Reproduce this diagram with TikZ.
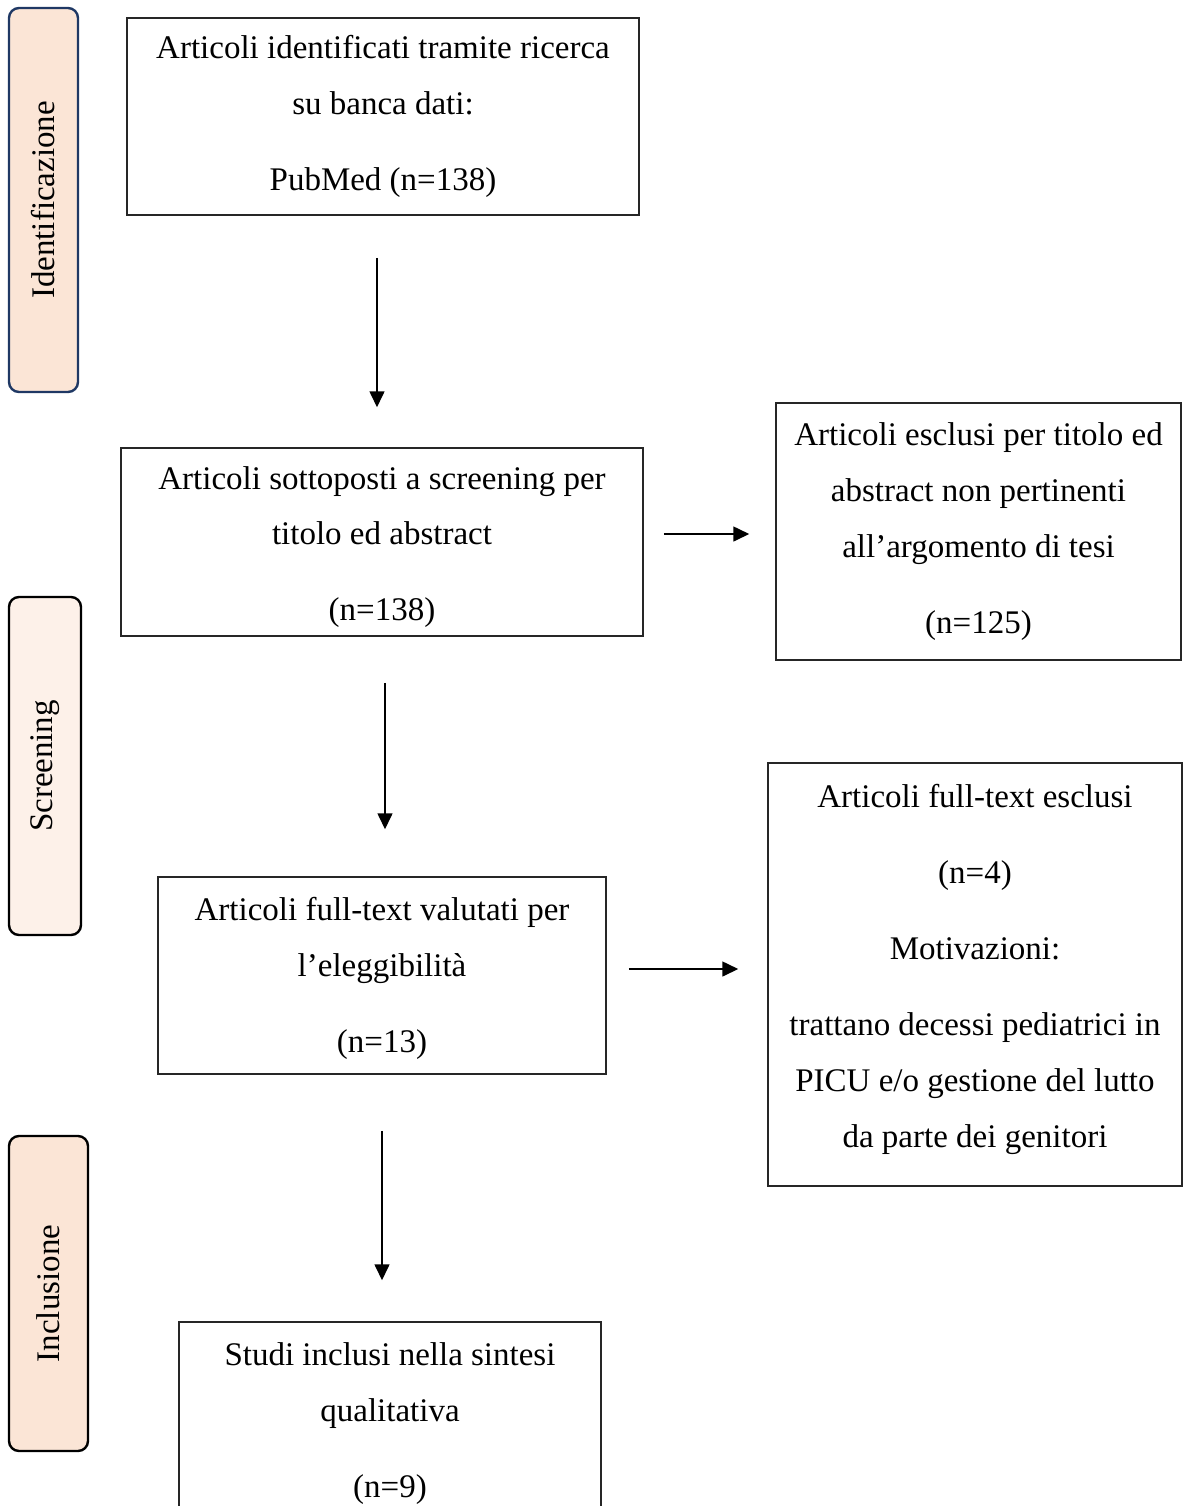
\documentclass[tikz,border=0pt]{standalone}
\usepackage{fontspec}
\setmainfont{Liberation Serif}
\usetikzlibrary{arrows.meta}

\definecolor{phasefill}{HTML}{FBE5D6}
\definecolor{phaselight}{HTML}{FDF1E9}
\definecolor{phaseblue}{HTML}{1F3864}

\begin{document}
\begin{tikzpicture}[x=0.5pt, y=-0.5pt,
    box/.style={draw=black!85, line width=0.75pt, align=center, inner sep=0pt,
        font=\fontsize{16.5}{28}\selectfont},
    phase/.style={draw=black, line width=1.2pt, rounded corners=5pt, rotate=90,
        inner sep=0pt, font=\fontsize{16.5}{20}\selectfont},
    arr/.style={-{Triangle[length=8pt,width=7.5pt]}, line width=0.8pt}]
    \useasboundingbox (0,0) rectangle (1188,1506);

    % Draw phase labels
    \node[phase, draw=phaseblue, fill=phasefill, minimum width=192pt, minimum height=34.5pt]
        (phid) at (43.5,200) {Identificazione};
    \node[phase, fill=phaselight, minimum width=169pt, minimum height=36pt]
        (phscr) at (45,766) {Screening};
    \node[phase, fill=phasefill, minimum width=157.5pt, minimum height=39.5pt]
        (phinc) at (48.5,1293.5) {Inclusione};

    % Draw main boxes
    \node[box, minimum width=256pt, minimum height=98.5pt] (ident) at (383,116.5)
        {Articoli identificati tramite ricerca\\ su banca dati:\\[10pt] PubMed (n=138)};
    \node[box, minimum width=261pt, minimum height=94pt] (scr) at (382,542)
        {\rule{0pt}{16.5pt}Articoli sottoposti a screening per\\ titolo ed abstract\\[10pt] (n=138)};
    \node[box, minimum width=224pt, minimum height=98.5pt] (full) at (382,975.5)
        {\rule{0pt}{14pt}Articoli full-text valutati per\\ l’eleggibilità\\[10pt] (n=13)};
    \node[box, minimum width=211pt, minimum height=98.5pt] (incl) at (390,1420.5)
        {\rule{0pt}{14pt}Studi inclusi nella sintesi\\ qualitativa\\[10pt] (n=9)};

    % Draw exclusion boxes
    \node[box, minimum width=202.5pt, minimum height=128.5pt] (excla) at (978.5,531.5)
        {Articoli esclusi per titolo ed\\ abstract non pertinenti\\ all’argomento di tesi\\[10pt] (n=125)};
    \node[box, minimum width=207pt, minimum height=211.5pt] (exclb) at (975,974.5)
        {Articoli full-text esclusi\\[10pt] (n=4)\\[10pt] Motivazioni:\\[10pt]
         trattano decessi pediatrici in\\ PICU e/o gestione del lutto\\ da parte dei genitori\rule[-9pt]{0pt}{9pt}};

    % Draw arrows
    \draw[arr, shorten <=21pt, shorten >=20pt] ([xshift=-3pt]ident.south) -- ([xshift=-3pt]ident.south |- scr.north);
    \draw[arr, shorten <=23pt, shorten >=23.5pt] ([xshift=1.5pt]scr.south) -- ([xshift=1.5pt]scr.south |- full.north);
    \draw[arr, shorten <=28pt, shorten >=20.5pt] (full.south) -- (full.south |- incl.north);
    \draw[arr, shorten <=10pt, shorten >=13pt] ([yshift=4pt]scr.east) -- ([yshift=4pt]scr.east -| excla.west);
    \draw[arr, shorten <=11pt, shorten >=14.5pt] ([yshift=3.25pt]full.east) -- ([yshift=3.25pt]full.east -| exclb.west);
\end{tikzpicture}
\end{document}
